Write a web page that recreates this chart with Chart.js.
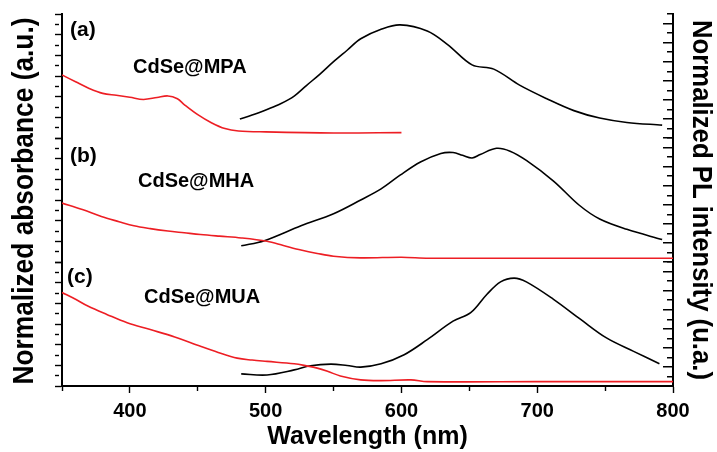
<!DOCTYPE html>
<html>
<head>
<meta charset="utf-8">
<script src="https://cdn.jsdelivr.net/npm/chart.js@4/dist/chart.umd.min.js"></script>
<style>
html,body{margin:0;padding:0;background:#fff;}
#wrap{position:relative;width:717px;height:452px;}
</style>
</head>
<body>
<div id="wrap"><canvas id="c"></canvas></div>
<script>
// ---- data ----
const xTickLabels = [400, 500, 600, 700, 800];

const wlAbsA = [350,360,370,380,390,400,410,420,428,435,440,450,460,470,480,500,550,600];
const absA   = [0.61,0.544,0.48,0.432,0.413,0.394,0.373,0.392,0.407,0.38,0.324,0.226,0.148,0.091,0.068,0.059,0.049,0.052];
const wlPlA  = [481,490,501,511,521,530,540,550,560,570,585,599,619,634,652,668,687,707,727,746,766,792];
const plA    = [0.199,0.24,0.3,0.36,0.44,0.55,0.67,0.80,0.92,1.04,1.14,1.186,1.122,0.98,0.767,0.722,0.554,0.412,0.287,0.209,0.163,0.135];

const wlAbsB = [350,365,379,392,403,415,428,440,452,466,482,501,513,526,538,550,570,600,620,700,800];
const absB   = [0.57,0.507,0.44,0.39,0.35,0.323,0.30,0.283,0.266,0.25,0.233,0.20,0.16,0.116,0.083,0.056,0.04,0.046,0.037,0.037,0.037];
const wlPlB  = [482,499,526,550,570,585,599,614,629,638,645,652,658,670,680,692,712,731,746,766,792];
const plB    = [0.17,0.224,0.38,0.506,0.65,0.766,0.91,1.048,1.138,1.148,1.119,1.091,1.127,1.192,1.162,1.065,0.849,0.595,0.451,0.343,0.235];

const wlAbsC = [350,360,369,383,398,415,433,452,465,479,490,501,521,530,538,546,555,570,585,607,619,700,800];
const absC   = [0.905,0.839,0.774,0.693,0.612,0.546,0.475,0.384,0.325,0.27,0.251,0.238,0.215,0.195,0.173,0.14,0.097,0.059,0.052,0.059,0.042,0.042,0.042];
const wlPlC  = [482,501,521,533,548,560,570,585,602,619,638,651,663,673,683,692,712,732,751,771,790];
const plC    = [0.127,0.116,0.169,0.212,0.229,0.215,0.198,0.233,0.328,0.486,0.68,0.768,0.962,1.092,1.131,1.092,0.909,0.698,0.504,0.363,0.233];

const panelTags  = ['(a)', '(b)', '(c)'];
const panelNames = ['CdSe@MPA', 'CdSe@MHA', 'CdSe@MUA'];
const leftTitle  = 'Normalized absorbance (a.u.)';
const rightTitle = 'Normalized PL intensity (u.a.)';
const xTitle     = 'Wavelength (nm)';

// ---- styling ----
const FONT = "'Liberation Sans', Arial, Helvetica, sans-serif";
const RED = 'rgb(237,30,36)';
const BLACK = '#000';

function pts(xs, ys) { return xs.map((x, i) => ({x: x, y: ys[i]})); }

function ds(xs, ys, color, axis) {
  return {
    data: pts(xs, ys), xAxisID: 'x', yAxisID: axis,
    borderColor: color, borderWidth: 1.6, pointRadius: 0,
    fill: false, tension: 0.35
  };
}

function leftAxis(w) {
  return {
    type: 'linear', position: 'left', stack: 'L', stackWeight: 1, weight: w,
    min: 0, max: 1.2,
    ticks: {display: false, stepSize: 0.1},
    border: {display: true, color: BLACK, width: 2},
    grid: {
      drawOnChartArea: false, drawTicks: true, tickLength: 7, tickWidth: 1.4, tickColor: BLACK,
      tickBorderDash: c => (c.index % 2 ? [4, 30] : [])
    },
    afterFit: s => { s.width = 62; }
  };
}

function rightAxis(w) {
  return {
    type: 'linear', position: 'right', stack: 'R', stackWeight: 1, weight: w,
    min: 0, max: 1.3,
    ticks: {display: false, stepSize: 0.1},
    border: {
      display: true, color: BLACK, width: 2,
      dash: c => {
        const a = c.chart.chartArea;
        if (!a || c.index === undefined) return [];
        const len = (a.right - 1) - a.left;
        const L = c.index % 2 ? 5 : 9;
        return [0, Math.max(0, len - L), L, 2000];
      }
    },
    grid: {drawOnChartArea: true, drawTicks: false, lineWidth: 1.4, color: BLACK},
    afterFit: s => { s.width = 44; }
  };
}

const textPlugin = {
  id: 'texts',
  afterDraw(chart) {
    const ctx = chart.ctx;
    ctx.save();
    ctx.fillStyle = BLACK;
    ctx.textBaseline = 'alphabetic';

    // left title
    ctx.save();
    ctx.font = 'bold 29px ' + FONT;
    ctx.textAlign = 'center';
    ctx.translate(33, 201);
    ctx.rotate(-Math.PI / 2);
    ctx.fillText(leftTitle, 0, 0, 367);
    ctx.restore();

    // right title
    ctx.save();
    ctx.font = 'bold 28px ' + FONT;
    ctx.textAlign = 'center';
    ctx.translate(693, 200);
    ctx.rotate(Math.PI / 2);
    ctx.fillText(rightTitle, 0, 0, 360);
    ctx.restore();

    // panel tags and names
    ctx.textAlign = 'left';
    const tagPos = [[70, 36], [70, 162], [67, 283]];
    const namePos = [[133, 73], [138, 187], [144, 303]];
    ctx.font = 'bold 21px ' + FONT;
    panelTags.forEach((t, i) => ctx.fillText(t, tagPos[i][0], tagPos[i][1]));
    ctx.font = 'bold 20px ' + FONT;
    panelNames.forEach((t, i) => ctx.fillText(t, namePos[i][0], namePos[i][1]));
    ctx.restore();
  }
};

new Chart(document.getElementById('c'), {
  type: 'line',
  data: {
    datasets: [
      ds(wlAbsA, absA, RED, 'yA'),
      ds(wlPlA, plA, BLACK, 'pA'),
      ds(wlAbsB, absB, RED, 'yB'),
      ds(wlPlB, plB, BLACK, 'pB'),
      ds(wlAbsC, absC, RED, 'yC'),
      ds(wlPlC, plC, BLACK, 'pC')
    ]
  },
  options: {
    responsive: true, maintainAspectRatio: false, animation: false,
    layout: {padding: {top: 14, left: 0, right: 0, bottom: 0}},
    plugins: {legend: {display: false}, tooltip: {enabled: false}},
    scales: {
      x: {
        type: 'linear', position: 'bottom', min: 350, max: 800,
        ticks: {
          stepSize: 50, autoSkip: false, maxRotation: 0, padding: 6, color: BLACK,
          font: {family: FONT, size: 20, weight: 'bold'},
          callback: v => (xTickLabels.includes(v) ? String(v) : '')
        },
        border: {display: true, color: BLACK, width: 2},
        grid: {
          drawOnChartArea: false, drawTicks: true, tickLength: 7, tickWidth: 1.4, tickColor: BLACK,
          tickBorderDash: c => (c.tick && xTickLabels.includes(c.tick.value) ? [] : [4, 30])
        },
        title: {display: true, text: xTitle, color: BLACK,
          font: {family: FONT, size: 25, weight: 'bold'}, padding: {top: 0, bottom: 0}},
        afterFit: s => { s.height = 66; }
      },
      yA: leftAxis(3), yB: leftAxis(2), yC: leftAxis(1),
      pA: rightAxis(1), pB: rightAxis(2), pC: rightAxis(3)
    }
  },
  plugins: [textPlugin]
});
</script>
</body>
</html>
